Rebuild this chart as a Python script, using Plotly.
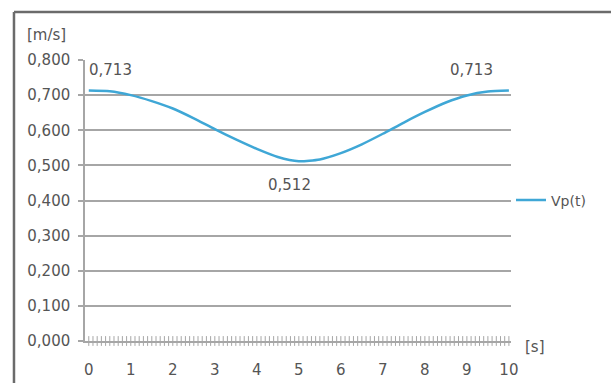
import plotly.graph_objects as go

# Data
t_values = [0, 0.5, 1, 1.5, 2, 2.5, 3, 3.5, 4, 4.5, 5,
            5.5, 6, 6.5, 7, 7.5, 8, 8.5, 9, 9.5, 10]
vp_values = [0.713, 0.711, 0.700, 0.683, 0.662, 0.634, 0.603, 0.574, 0.547, 0.524, 0.512,
             0.517, 0.535, 0.560, 0.590, 0.622, 0.652, 0.679, 0.699, 0.710, 0.713]
x_ticks = list(range(0, 11))
y_ticks = [0.0, 0.1, 0.2, 0.3, 0.4, 0.5, 0.6, 0.7, 0.8]
minor_step = 0.1
series_name = "Vp(t)"
labelled_idx = [0, 10, 20]

FONT = "DejaVu Sans"
TXT = "#555555"
GRID = "#a6a6a6"
FS = 15

fig = go.Figure()

# dense category tick marks along the time axis (every minor_step)
minor_x = [round(k * minor_step, 1) for k in range(int(round(x_ticks[-1] / minor_step)) + 1)]
fig.add_trace(go.Scatter(
    x=minor_x, y=[y_ticks[0]] * len(minor_x), mode="markers",
    marker=dict(symbol="line-ns", size=7, line=dict(color=GRID, width=1)),
    cliponaxis=False, showlegend=False, hoverinfo="skip",
))

fig.add_trace(go.Scatter(
    x=t_values, y=vp_values, mode="lines", name=series_name,
    line=dict(color="#3fa7d6", width=2.5, shape="spline", smoothing=0.6),
))

shifts = {0: (22, 21), 10: (-9, -24), 20: (-37, 21)}
for i in labelled_idx:
    xs, ys = shifts[i]
    fig.add_annotation(
        x=t_values[i], y=vp_values[i], xref="x", yref="y",
        text=f"{vp_values[i]:.3f}".replace(".", ","),
        showarrow=False, xshift=xs, yshift=ys,
        font=dict(family=FONT, size=FS, color=TXT),
    )

fig.add_annotation(x=-0.09, y=1.09, xref="paper", yref="paper", text="[m/s]",
                   showarrow=False, xanchor="center", yanchor="middle",
                   font=dict(family=FONT, size=FS, color=TXT))
fig.add_annotation(x=1.056, y=-0.02, xref="paper", yref="paper", text="[s]",
                   showarrow=False, xanchor="center", yanchor="middle",
                   font=dict(family=FONT, size=FS, color=TXT))

# outer frame
L, R, T, B = -0.1667, 1.2488, 1.1708, -0.16
fig.add_shape(type="line", xref="paper", yref="paper", x0=L, x1=L, y0=B, y1=T,
              line=dict(color="#6b6b6b", width=2.5))
fig.add_shape(type="line", xref="paper", yref="paper", x0=L, x1=R, y0=T, y1=T,
              line=dict(color="#6b6b6b", width=2.5))
fig.add_shape(type="line", xref="paper", yref="paper", x0=R, x1=R, y0=B, y1=T,
              line=dict(color="#d0d0d0", width=1.5))

fig.update_layout(
    width=611, height=383,
    margin=dict(l=85, r=100, t=60, b=42, autoexpand=False),
    paper_bgcolor="white", plot_bgcolor="white",
    separators=", ",
    font=dict(family=FONT, size=FS, color=TXT),
    showlegend=True,
    legend=dict(x=1.0, y=0.5, xanchor="left", yanchor="middle",
                font=dict(family=FONT, size=14, color=TXT),
                bgcolor="rgba(0,0,0,0)", itemwidth=30),
    xaxis=dict(range=[-0.09, 10.05], tickvals=x_ticks, showgrid=False,
               zeroline=False, showline=True, linecolor=GRID, linewidth=1.5,
               ticks="", tickfont=dict(family=FONT, size=FS, color=TXT),
               ticklabelstandoff=14),
    yaxis=dict(range=[0, 0.8], tickvals=y_ticks, tickformat=".3f",
               showgrid=True, gridcolor=GRID, gridwidth=1.5, zeroline=False,
               showline=True, linecolor=GRID, linewidth=1.5,
               ticks="outside", ticklen=5, tickcolor=GRID, tickwidth=1.5,
               ticklabelstandoff=5,
               tickfont=dict(family=FONT, size=FS, color=TXT)),
)

fig.write_html("out.html", config={"displayModeBar": False},
               post_script="document.body.style.margin='0px';")
